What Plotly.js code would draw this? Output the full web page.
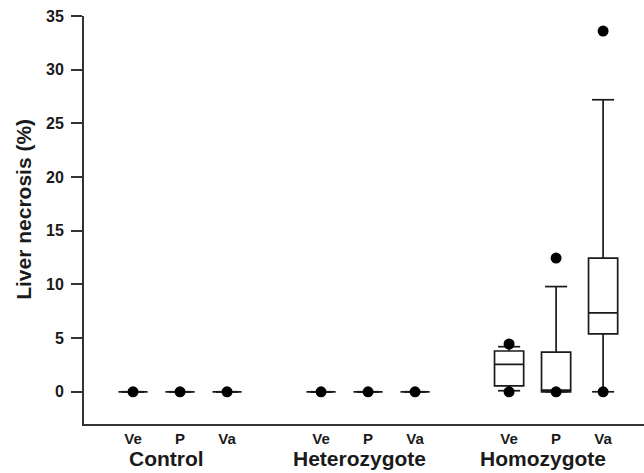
<!DOCTYPE html>
<html>
<head>
<meta charset="utf-8">
<script src="https://cdn.plot.ly/plotly-3.0.1.min.js"></script>
<style>html,body{margin:0;padding:0;background:#fff;}#chart{width:644px;height:473px;}</style>
</head>
<body>
<div id="chart"></div>
<script>
// ---- data ----
const groups = ['Control', 'Heterozygote', 'Homozygote'];
const treatments = ['Ve', 'P', 'Va'];
const lowerFence = [0, 0, 0, 0, 0, 0, 0.1, 0, 0];
const q1Values   = [0, 0, 0, 0, 0, 0, 0.55, 0, 5.4];
const medians    = [0, 0, 0, 0, 0, 0, 2.55, 0.15, 7.35];
const q3Values   = [0, 0, 0, 0, 0, 0, 3.8, 3.7, 12.45];
const upperFence = [0, 0, 0, 0, 0, 0, 4.2, 9.8, 27.2];
// outlier / extreme points: [box index, value]
const pointBox   = [0, 1, 2, 3, 4, 5, 6, 6, 7, 7, 8, 8];
const pointValue = [0, 0, 0, 0, 0, 0, 0, 4.45, 0, 12.45, 0, 33.6];
const yTicks = [0, 5, 10, 15, 20, 25, 30, 35];

// ---- positions (category slots, one empty slot between groups) ----
const pos = [];
const tickText = [];
groups.forEach((g, gi) => treatments.forEach((t, ti) => { pos.push(gi * 4 + ti + 1); tickText.push(t); }));
const groupCenters = groups.map((g, gi) => gi * 4 + 2);

const BOX_W = 0.62, CAP_HALF = 0.235;
const FONT = 'Liberation Sans, Arial, sans-serif';
const INK = '#1a1a1a';

const boxTrace = {
  type: 'box', x: pos, q1: q1Values, median: medians, q3: q3Values,
  lowerfence: lowerFence, upperfence: upperFence,
  width: BOX_W, boxpoints: false, fillcolor: '#ffffff',
  line: {color: INK, width: 1.7}, whiskerwidth: 0, showlegend: false, hoverinfo: 'skip'
};

const capX = [], capY = [];
pos.forEach((p, i) => {
  [lowerFence[i], upperFence[i]].forEach(v => {
    capX.push(p - CAP_HALF, p + CAP_HALF, null);
    capY.push(v, v, null);
  });
});
const capTrace = {type: 'scatter', mode: 'lines', x: capX, y: capY,
  line: {color: INK, width: 1.7}, showlegend: false, hoverinfo: 'skip'};

const pointTrace = {type: 'scatter', mode: 'markers',
  x: pointBox.map(i => pos[i]), y: pointValue,
  marker: {color: '#000', size: 11}, showlegend: false, hoverinfo: 'skip'};

const annotations = groups.map((g, gi) => ({
  text: g, x: groupCenters[gi], xref: 'x', y: 0, yref: 'paper',
  yshift: -34, xshift: [-14, -9, -13][gi], yanchor: 'middle', xanchor: 'center', showarrow: false,
  font: {family: FONT, size: 21, color: INK, weight: 'bold'}
}));
annotations.push({
  text: 'Liver necrosis (%)', textangle: -90, xref: 'paper', yref: 'paper',
  x: 0, xshift: -60, y: 0.525, xanchor: 'center', yanchor: 'middle', showarrow: false,
  font: {family: FONT, size: 21, color: INK, weight: 'bold'}
});

const layout = {
  width: 644, height: 473,
  margin: {l: 84, r: 0, t: 16, b: 49, pad: 0},
  paper_bgcolor: '#fff', plot_bgcolor: '#fff',
  showlegend: false,
  font: {family: FONT, color: INK},
  xaxis: {
    range: [-0.043, 11.87], showgrid: false, zeroline: false,
    showline: true, linecolor: '#333', linewidth: 2, ticks: '',
    tickmode: 'array', tickvals: pos, ticktext: tickText,
    tickfont: {family: FONT, size: 15, color: INK, weight: 'bold'}
  },
  yaxis: {
    range: [-3, 35], showgrid: false, zeroline: false,
    showline: true, linecolor: '#333', linewidth: 2,
    ticks: 'outside', ticklen: 11, tickwidth: 2, tickcolor: '#333',
    tickmode: 'array', tickvals: yTicks, ticklabelstandoff: 4,
    tickfont: {family: FONT, size: 16, color: INK, weight: 'bold'}
  },
  annotations: annotations
};

Plotly.newPlot('chart', [boxTrace, capTrace, pointTrace], layout, {displayModeBar: false, staticPlot: true});
</script>
</body>
</html>
